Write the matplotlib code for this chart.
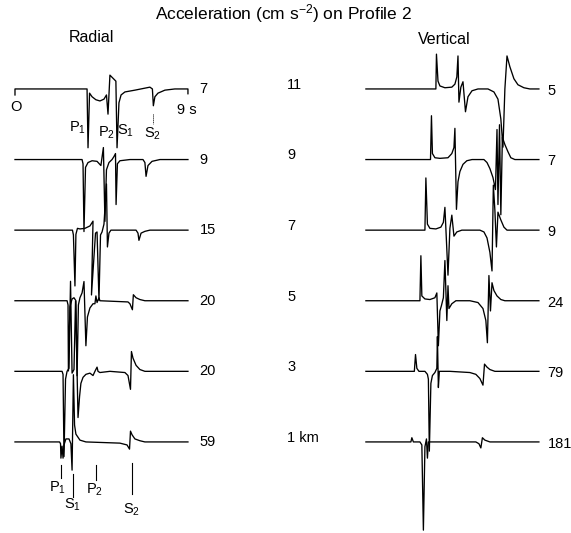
import matplotlib
matplotlib.use("Agg")
import matplotlib.pyplot as plt

plt.rcParams['font.family'] = ['Liberation Sans', 'DejaVu Sans']
plt.rcParams['mathtext.default'] = 'regular'
plt.rcParams['mathtext.fontset'] = 'custom'
plt.rcParams['mathtext.rm'] = 'Liberation Sans'

# distances of the six stations (km) and peak accelerations (cm s^-2)
distances = [11, 9, 7, 5, 3, 1]
radial_peaks = ["7", "9", "15", "20", "20", "59"]
vertical_peaks = ["5", "7", "9", "24", "79", "181"]

# traces: (time s, normalised amplitude), up = positive
radial_11km = [(0, -0.10), (0, 0), (3.75, 0), (3.80, -0.98), (3.88, -0.07), (4.01, -0.13),
               (4.21, -0.18), (4.42, -0.20), (4.63, -0.17), (4.76, -0.10), (4.84, -0.42),
               (4.94, 0.23), (5.25, 0.13), (5.31, -0.98), (5.41, -0.23), (5.52, -0.10),
               (5.72, -0.05), (6.24, -0.02), (7.02, 0.03), (7.15, 0), (7.20, -0.28),
               (7.28, -0.13), (7.44, -0.07), (7.80, -0.02), (8.32, 0), (9.0, 0), (9.0, -0.08)]
radial_9km = [(0, 0), (3.49, 0), (3.54, -0.07), (3.59, -1.2), (3.67, -0.13), (3.80, -0.05),
              (4.01, -0.02), (4.27, -0.03), (4.47, -0.10), (4.60, 0.20), (4.68, -1.03),
              (4.76, -0.17), (4.89, -0.05), (5.05, 0), (5.15, 0.05), (5.23, 0.10), (5.26, -0.75),
              (5.33, -0.07), (5.46, -0.02), (5.98, 0), (6.66, 0), (6.76, -0.05), (6.82, -0.28),
              (6.92, -0.10), (7.13, -0.03), (7.54, 0), (9.0, 0)]
radial_7km = [(0, 0), (2.99, 0), (3.04, -0.08), (3.12, -0.93), (3.17, -0.07), (3.25, 0.03),
              (3.38, 0.02), (3.64, 0.03), (3.90, 0.07), (4.06, 0.15), (3.98, -1.08), (4.19, -0.05),
              (4.27, -0.03), (4.37, -1.17), (4.45, -0.08), (4.53, -0.03), (4.63, 0.10),
              (4.76, 0.77), (4.81, -0.28), (4.89, -0.05), (4.99, 0), (5.72, 0), (6.30, 0),
              (6.40, -0.05), (6.45, -0.17), (6.56, -0.05), (6.76, -0.02), (7.02, 0), (9.0, 0)]
radial_5km = [(0, 0), (2.71, 0), (2.76, -0.07), (2.78, -1.17), (2.86, -0.10), (2.97, 0.03),
              (3.07, 0.05), (3.17, 0), (3.23, -1.25), (3.30, -0.07), (3.38, 0.05), (3.49, 0.13),
              (3.59, 0.32), (3.69, -0.75), (3.77, -0.27), (3.90, -0.12), (4.06, -0.05),
              (4.16, -0.05), (4.21, 0.08), (4.27, -0.03), (4.37, 0.05), (4.42, 0), (5.88, -0.02),
              (5.98, -0.05), (6.11, -0.15), (6.16, 0.10), (6.30, 0.05), (6.50, 0.02), (6.76, 0),
              (9.0, 0)]
radial_3km = [(0, 0), (2.45, 0), (2.50, -0.05), (2.55, -1.42), (2.63, -0.13), (2.71, 0),
              (2.81, 0.05), (2.89, 1.50), (2.97, -0.03), (3.07, 0.03), (3.15, 1.17), (3.23, 0),
              (3.28, -0.77), (3.36, -0.42), (3.43, -0.20), (3.54, -0.10), (3.69, -0.05),
              (3.90, -0.03), (4.06, -0.07), (4.16, 0), (4.27, 0.07), (4.32, 0), (4.42, -0.02),
              (4.94, 0), (5.72, -0.02), (5.88, -0.07), (6.01, -0.30), (6.06, 0.33), (6.14, 0.22),
              (6.30, 0.10), (6.50, 0.03), (6.76, 0), (9.0, 0)]
radial_1km = [(0, 0), (2.32, 0), (2.37, -0.03), (2.39, -0.27), (2.45, -0.07), (2.50, -0.27),
              (2.55, -0.05), (2.65, 0.05), (2.81, 0.05), (2.91, -0.03), (2.97, -0.47),
              (3.04, 1.12), (3.10, 0.28), (3.17, 0.13), (3.38, 0.03), (3.69, 0), (5.46, -0.02),
              (5.83, -0.05), (5.96, -0.12), (6.01, 0.18), (6.09, 0.12), (6.24, 0.05),
              (6.50, 0.02), (6.76, 0), (9.0, 0)]

vertical_11km = [(0, 0), (3.64, 0), (3.67, 0.58), (3.75, 0.13), (3.85, 0.05), (4.11, 0.02),
                 (4.47, 0.03), (4.63, 0.08), (4.73, 0.20), (4.79, 0.55), (4.84, -0.22),
                 (4.94, 0.03), (5.05, 0.12), (5.18, -0.38), (5.31, -0.13), (5.52, -0.03),
                 (5.83, 0), (6.35, 0), (6.66, -0.05), (6.87, -0.17), (7.02, -0.50),
                 (7.13, -0.97), (7.23, 0), (7.34, 0.55), (7.49, 0.37), (7.70, 0.17),
                 (7.91, 0.07), (8.22, 0.02), (8.53, 0), (9.0, 0)]
vertical_9km = [(0, 0), (3.36, 0), (3.41, 0.73), (3.46, 0.10), (3.59, 0.03), (3.85, 0.02),
                (4.27, 0.03), (4.47, 0.10), (4.58, 0.20), (4.63, 0.52), (4.71, -0.83),
                (4.79, -0.37), (4.89, -0.20), (5.05, -0.08), (5.25, -0.02), (5.52, 0), (6.14, 0),
                (6.30, -0.05), (6.45, -0.15), (6.61, -0.30), (6.74, -0.50), (6.82, 0.50),
                (6.87, -0.75), (6.95, 0.58), (7.02, -0.92), (7.10, 0.37), (7.23, 0.25),
                (7.39, 0.13), (7.54, 0.03), (7.75, 0), (9.0, 0)]
vertical_7km = [(0, 0), (3.07, 0), (3.12, 0.87), (3.20, 0.10), (3.33, 0.03), (3.64, 0.02),
                (3.90, 0.05), (4.03, 0.13), (4.11, 0.38), (4.27, -0.75), (4.37, 0.03),
                (4.47, 0.25), (4.58, -0.10), (4.73, -0.03), (4.99, 0), (5.93, 0), (6.14, -0.03),
                (6.30, -0.13), (6.45, -0.37), (6.56, -0.68), (6.63, 0.75), (6.71, 0.33),
                (6.79, -0.28), (6.87, 0.30), (7.02, 0.17), (7.18, 0.05), (7.34, 0), (9.0, 0)]
vertical_5km = [(0, 0), (2.81, 0), (2.86, 0.75), (2.91, 0.08), (3.07, 0.03), (3.33, 0.02),
                (3.59, 0.05), (3.69, 0.13), (3.77, -0.75), (3.85, -0.17), (3.93, -0.08),
                (4.03, 0.05), (4.11, 0.67), (4.21, -0.33), (4.27, 0.25), (4.32, -0.13),
                (4.47, -0.05), (4.68, 0), (5.41, 0), (5.83, -0.03), (6.09, -0.13), (6.24, -0.33),
                (6.32, -0.70), (6.40, 0.42), (6.48, -0.17), (6.56, 0.30), (6.66, 0.17),
                (6.82, 0.08), (7.02, 0.02), (7.23, 0), (9.0, 0)]
vertical_3km = [(0, 0), (2.52, 0), (2.58, 0.28), (2.65, 0.05), (2.76, 0), (3.07, 0),
                (3.20, -0.05), (3.25, -0.13), (3.30, -1.33), (3.38, -0.20), (3.46, -0.07),
                (3.59, -0.02), (3.69, 0.05), (3.72, 0.58), (3.77, -0.27), (3.82, 0), (4.37, 0),
                (5.41, -0.02), (5.72, -0.05), (5.93, -0.12), (6.09, -0.23), (6.17, 0.12),
                (6.30, 0.07), (6.45, 0.03), (6.71, 0), (9.0, 0)]
vertical_1km = [(0, 0), (2.34, 0), (2.39, 0.07), (2.47, 0), (2.81, 0), (2.91, -0.05),
                (2.99, -1.47), (3.07, -0.08), (3.15, 0.05), (3.20, -0.27), (3.25, 0), (3.85, 0),
                (5.72, 0), (5.88, -0.03), (5.98, -0.10), (6.06, 0.07), (6.19, 0.03), (6.45, 0),
                (9.0, 0)]

radial_traces = [radial_11km, radial_9km, radial_7km, radial_5km, radial_3km, radial_1km]
vertical_traces = [vertical_11km, vertical_9km, vertical_7km, vertical_5km, vertical_3km,
                   vertical_1km]

# phase picks marked on the 11 km and 1 km radial traces
phases = ["P$_1$", "P$_2$", "S$_1$", "S$_2$"]
picks_11km = [3.80, 4.84, 5.31, 7.18]
picks_1km = [2.39, 4.20, 3.00, 6.07]

gain = 1.7  # km of plot per unit amplitude
fs = 10.5

fig = plt.figure(figsize=(5.71, 5.33), dpi=100)
ax_r = fig.add_axes([0, 0, 280 / 571, 1])
ax_v = fig.add_axes([280 / 571, 0, 291 / 571, 1])
ax_r.set_xlim(-0.78, 13.79)
ax_v.set_xlim(-4.47, 10.67)
for ax in (ax_r, ax_v):
    ax.set_ylim(-1.58, 13.52)
    ax.axis("off")

for d, tr, lab in zip(distances, radial_traces, radial_peaks):
    t = [p[0] for p in tr]
    a = [d + gain * p[1] for p in tr]
    ax_r.plot(t, a, color="black", lw=0.95)
    ax_r.text(9.6, d, lab, fontsize=fs, ha="left", va="center")

for d, tr, lab in zip(distances, vertical_traces, vertical_peaks):
    t = [p[0] for p in tr]
    a = [d + gain * p[1] for p in tr]
    ax_v.plot(t, a, color="black", lw=0.95)
    ax_v.text(9.45, d - 0.05, lab, fontsize=fs, ha="left", va="center")
    dist_lab = f"{d} km" if d == 1 else str(d)
    ax_v.text(-4.1, d + 0.12, dist_lab, fontsize=fs, ha="left", va="center")

# time scale on the top trace
ax_r.text(0.05, 10.5, "O", fontsize=fs, ha="center", va="center")
ax_r.text(8.95, 10.4, "9 s", fontsize=fs, ha="center", va="center")

# phase labels below the 11 km trace
lab_x_top = [3.23, 4.74, 5.74, 7.15]
lab_y_top = [9.90, 9.75, 9.81, 9.73]
for name, x, y in zip(phases, lab_x_top, lab_y_top):
    ax_r.text(x, y, name, fontsize=fs, ha="center", va="center")
ax_r.plot([picks_11km[3]] * 2, [10.3, 10.0], color="black", lw=0.7, ls=(0, (1, 1)))

# phase labels below the 1 km trace
tick_top = [0.35, 0.35, 0.1, 0.4]
tick_bot = [-0.02, -0.08, -0.56, -0.47]
lab_y_bot = [-0.30, -0.36, -0.78, -0.93]
lab_x_bot = [2.22, 4.13, 3.0, 6.07]
for name, x, y0, y1, lx, ly in zip(phases, picks_1km, tick_top, tick_bot, lab_x_bot, lab_y_bot):
    ax_r.plot([x, x], [y0, y1], color="black", lw=0.8)
    ax_r.text(lx, ly, name, fontsize=fs, ha="center", va="center")

fig.text(0.497, 0.974, "Acceleration (cm s$^{-2}$) on Profile 2", fontsize=12.5,
         ha="center", va="center")
fig.text(0.161, 0.929, "Radial", fontsize=11.5, ha="center", va="center")
fig.text(0.778, 0.925, "Vertical", fontsize=11.5, ha="center", va="center")

fig.savefig("out.png", dpi=100)
